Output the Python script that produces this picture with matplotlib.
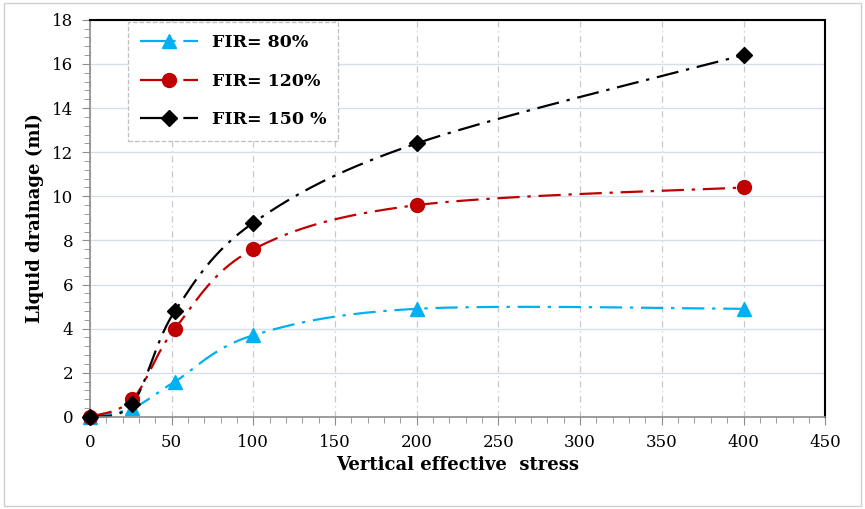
import numpy as np
import matplotlib.pyplot as plt
from matplotlib.ticker import MultipleLocator

# valeurs
stress = [0, 26, 52, 100, 200, 400]
fir80 = [0, 0.4, 1.6, 3.7, 4.9, 4.9]
fir120 = [0, 0.8, 4.0, 7.6, 9.6, 10.4]
fir150 = [0, 0.6, 4.8, 8.8, 12.4, 16.4]

labels = ['FIR= 80%', 'FIR= 120%', 'FIR= 150 %']
colors = ['#00B0F0', '#C00000', 'black']
markers = ['^', 'o', 'D']


def smooth(x, y, n=40):
    # courbe lissée type Excel (Bezier / Catmull-Rom)
    x = np.asarray(x, float)
    y = np.asarray(y, float)
    px = np.concatenate([[x[0]], x, [x[-1]]])
    py = np.concatenate([[y[0]], y, [y[-1]]])
    xs, ys = [], []
    t = np.linspace(0, 1, n)
    for i in range(1, len(px) - 2):
        p0 = np.array([px[i], py[i]])
        p3 = np.array([px[i + 1], py[i + 1]])
        p1 = p0 + (p3 - np.array([px[i - 1], py[i - 1]])) / 6
        p2 = p3 - (np.array([px[i + 2], py[i + 2]]) - p0) / 6
        b = ((1 - t) ** 3)[:, None] * p0 + (3 * (1 - t) ** 2 * t)[:, None] * p1 \
            + (3 * (1 - t) * t ** 2)[:, None] * p2 + (t ** 3)[:, None] * p3
        xs.extend(b[:, 0])
        ys.extend(b[:, 1])
    return xs, ys


plt.rcParams['font.family'] = 'DejaVu Serif'

fig = plt.figure(figsize=(8.65, 5.09), dpi=100)
ax = fig.add_axes([0.104, 0.181, 0.850, 0.780])

dash = (0, (10, 3.5, 1.5, 3.5))
handles = []
for ys, c, m, lab in zip([fir80, fir120, fir150], colors, markers, labels):
    ms = 10 if m != 'D' else 8.5
    sx, sy = smooth(stress, ys)
    ax.plot(sx, sy, color=c, lw=1.6, linestyle=dash, clip_on=False)
    ax.plot(stress, ys, linestyle='none', marker=m, color=c,
            markersize=ms, clip_on=False, zorder=4)
    h, = ax.plot([], [], color=c, lw=1.6, linestyle=(0, (16, 3.5, 8, 3)),
                 marker=m, markersize=ms)
    handles.append(h)

ax.set_xlim(0, 450)
ax.set_ylim(0, 18)
ax.xaxis.set_major_locator(MultipleLocator(50))
ax.xaxis.set_minor_locator(MultipleLocator(10))
ax.yaxis.set_major_locator(MultipleLocator(2))
ax.yaxis.set_minor_locator(MultipleLocator(0.4))

ax.grid(axis='y', which='major', color='#D6DEEE', lw=1.0)
ax.grid(axis='x', which='major', color='#C8C8C8', lw=0.9, linestyle=(0, (5, 3, 1, 3)))
ax.set_axisbelow(True)

for s in ['left', 'bottom']:
    ax.spines[s].set_color('#8C8C8C')
    ax.spines[s].set_linewidth(1.2)
for s in ['top', 'right']:
    ax.spines[s].set_color('black')
    ax.spines[s].set_linewidth(1.5)

ax.tick_params(which='major', length=6, color='#8C8C8C', labelsize=12, pad=6)
ax.tick_params(which='minor', length=4, color='#8C8C8C')

ax.set_xlabel('Vertical effective  stress', fontsize=13, fontweight='bold', labelpad=4)
ax.set_ylabel('Liquid drainage (ml)', fontsize=13, fontweight='bold', labelpad=6)

leg = ax.legend(handles, labels, loc='upper left', bbox_to_anchor=(0.052, 0.995),
                borderaxespad=0, prop={'weight': 'bold', 'size': 12.5},
                handlelength=3.3, handletextpad=0.8, labelspacing=1.25,
                borderpad=0.7, fancybox=False, framealpha=1)
leg.get_frame().set_edgecolor('#BFBFBF')
leg.get_frame().set_linestyle('--')
leg.get_frame().set_linewidth(0.9)

fig.patches.append(plt.Rectangle((0.005, 0.005), 0.99, 0.99, transform=fig.transFigure,
                                 fill=False, edgecolor='#D0D0D0', lw=1))

fig.savefig('out.png', dpi=100)
